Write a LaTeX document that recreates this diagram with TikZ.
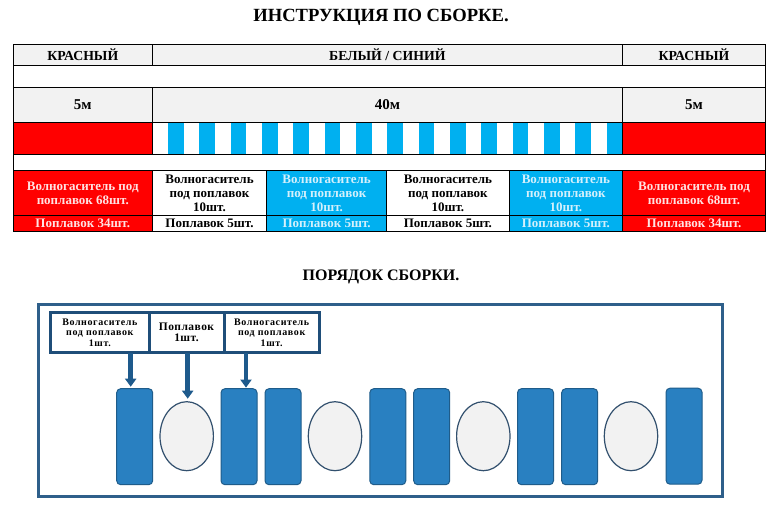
\documentclass[tikz,border=0pt]{standalone}
\usepackage{fontspec}
\setmainfont{Liberation Serif}
\usetikzlibrary{arrows.meta,shapes.geometric,calc}
\definecolor{cgray}{RGB}{242,242,242}
\definecolor{cred}{RGB}{255,0,0}
\definecolor{cblue}{RGB}{0,176,240}
\definecolor{tblue}{RGB}{212,240,252}
\definecolor{tred}{RGB}{255,226,226}
\definecolor{frameblue}{RGB}{46,95,138}
\definecolor{boxnavy}{RGB}{31,78,121}
\definecolor{arrowblue}{RGB}{30,90,140}
\definecolor{partblue}{RGB}{41,128,193}
\definecolor{partedge}{RGB}{31,92,138}
\definecolor{ovaledge}{RGB}{50,80,110}
\newcommand\mkcell[7]{%
 \pgfmathsetmacro\mcx{(#2+#4)/2}\pgfmathsetmacro\mcy{(#3+#5)/2}%
 \pgfmathsetmacro\mcw{#4-#2}\pgfmathsetmacro\mch{#5-#3}%
 \node[cell,#6,minimum width=\mcw pt,minimum height=\mch pt] (#1) at (\mcx,\mcy) {#7};}
\newcommand\hdrtxt{\fontsize{13.8}{15}\selectfont\bfseries}
\newcommand\bigtxt{\fontsize{15}{17}\selectfont\bfseries}
\newcommand\bodytxt{\fontsize{13}{14.2}\selectfont\bfseries}
\newcommand\lbltxt{\fontsize{10}{10.3}\selectfont\bfseries\addfontfeature{LetterSpace=6}}
\newcommand\lblbtxt{\fontsize{11.5}{11}\selectfont\bfseries\addfontfeature{LetterSpace=4}}
\begin{document}
\begin{tikzpicture}[x=1pt,y=-1pt,
  cell/.style={draw=black,line width=0.6pt,inner sep=0pt,outer sep=0pt,align=center,text=black},
  grayc/.style={fill=cgray},
  whitec/.style={fill=white},
  redc/.style={fill=cred,text=tred},
  bluec/.style={fill=cblue,text=tblue},
  hdr/.style={font=\hdrtxt},
  len/.style={font=\bigtxt},
  bod/.style={font=\bodytxt},
  labelbox/.style={draw=boxnavy,line width=3pt,fill=white,inner sep=0pt,outer sep=0pt,align=center,minimum height=40pt},
  part/.style={draw=partedge,line width=1pt,fill=partblue,rounded corners=4pt,minimum width=36pt,minimum height=96pt,inner sep=0pt},
  oval/.style={ellipse,draw=ovaledge,line width=1.2pt,fill=cgray,minimum width=53.4pt,minimum height=69pt,inner sep=0pt},
  arr/.style={draw=arrowblue,line width=4.5pt,-{Triangle[length=8pt,width=11pt]}}]
\useasboundingbox (0,0) rectangle (774,508);
\fill[white] (0,0) rectangle (774,508);
% titles
\node[font=\fontsize{18.6}{20}\selectfont\bfseries] (title) at (381,17.5) {ИНСТРУКЦИЯ ПО СБОРКЕ.};
% header row
\mkcell{h1}{13.3}{44.3}{152.3}{65}{grayc,hdr}{КРАСНЫЙ}
\mkcell{h2}{152.3}{44.3}{622.5}{65}{grayc,hdr}{БЕЛЫЙ / СИНИЙ}
\mkcell{h3}{622.5}{44.3}{765.5}{65}{grayc,hdr}{КРАСНЫЙ}
% blank row
\mkcell{b1}{13.3}{65}{765.5}{87.3}{whitec}{}
% lengths row
\mkcell{l1}{13.3}{87.3}{152.3}{122}{grayc,len}{5м}
\mkcell{l2}{152.3}{87.3}{622.5}{122}{grayc,len}{40м}
\mkcell{l3}{622.5}{87.3}{765.5}{122}{grayc,len}{5м}
% colour row
\mkcell{c1}{13.3}{122}{152.3}{154.3}{redc}{}
\foreach \i in {1,3,...,29}{
  \fill[cblue] ({152.3+\i*15.673},122) rectangle ({152.3+(\i+1)*15.673},154.3);
}
\mkcell{c2}{152.3}{122}{622.5}{154.3}{}{}
\mkcell{c3}{622.5}{122}{765.5}{154.3}{redc}{}
% blank row
\mkcell{b2}{13.3}{154.3}{765.5}{170.7}{whitec}{}
% counts rows
\mkcell{w1}{13.3}{170.7}{152.3}{215.7}{redc,bod}{Волногаситель под\\поплавок 68шт.}
\mkcell{w2}{152.3}{170.7}{266.7}{215.7}{whitec,bod}{Волногаситель\\под поплавок\\10шт.}
\mkcell{w3}{266.7}{170.7}{386.5}{215.7}{bluec,bod}{Волногаситель\\под поплавок\\10шт.}
\mkcell{w4}{386.5}{170.7}{509.3}{215.7}{whitec,bod}{Волногаситель\\под поплавок\\10шт.}
\mkcell{w5}{509.3}{170.7}{622.5}{215.7}{bluec,bod}{Волногаситель\\под поплавок\\10шт.}
\mkcell{w6}{622.5}{170.7}{765.5}{215.7}{redc,bod}{Волногаситель под\\поплавок 68шт.}
\mkcell{p1}{13.3}{215.7}{152.3}{231.7}{redc,bod}{Поплавок 34шт.}
\mkcell{p2}{152.3}{215.7}{266.7}{231.7}{whitec,bod}{Поплавок 5шт.}
\mkcell{p3}{266.7}{215.7}{386.5}{231.7}{bluec,bod}{Поплавок 5шт.}
\mkcell{p4}{386.5}{215.7}{509.3}{231.7}{whitec,bod}{Поплавок 5шт.}
\mkcell{p5}{509.3}{215.7}{622.5}{231.7}{bluec,bod}{Поплавок 5шт.}
\mkcell{p6}{622.5}{215.7}{765.5}{231.7}{redc,bod}{Поплавок 34шт.}
% assembly order
\node[font=\fontsize{16}{17}\selectfont\bfseries] (title2) at (381,276.7) {ПОРЯДОК СБОРКИ.};
\node[draw=frameblue,line width=2.6pt,minimum width=684pt,minimum height=192.4pt,inner sep=0pt] (frame) at (380.3,400.5) {};
\node[labelbox,font=\lbltxt,minimum width=98.3pt] (box1) at (99.85,332.7) {Волногаситель\\под поплавок\\1шт.};
\node[labelbox,font=\lblbtxt,minimum width=75pt] (box2) at (186.5,332.7) {Поплавок\\1шт.};
\node[labelbox,font=\lbltxt,minimum width=95.3pt] (box3) at (271.65,332.7) {Волногаситель\\под поплавок\\1шт.};
% parts
\node[part] (r1) at (134.7,436.7) {};
\node[oval] (e1) at (186.7,436.2) {};
\node[part] (r2) at (239,436.7) {};
\node[part] (r3) at (283,436.7) {};
\node[oval] (e2) at (335,436.2) {};
\node[part] (r4) at (387.8,436.7) {};
\node[part] (r5) at (431.7,436.7) {};
\node[oval] (e3) at (483.3,436.2) {};
\node[part] (r6) at (535.5,436.7) {};
\node[part] (r7) at (579.7,436.7) {};
\node[oval] (e4) at (631,436.2) {};
\node[part] (r8) at (684,436.2) {};
% arrows
\coordinate (a1) at (130.7,0);
\coordinate (a2) at (187.7,0);
\coordinate (a3) at (246,0);
\draw[arr] (box1.south -| a1) -- ($(r1.north -| a1)+(0,-1.5)$);
\draw[arr] (box2.south -| a2) -- ($(e1.north -| a2)+(0,-2.4)$);
\draw[arr] (box3.south -| a3) -- ($(r2.north -| a3)+(0,-0.6)$);
\end{tikzpicture}
\end{document}
